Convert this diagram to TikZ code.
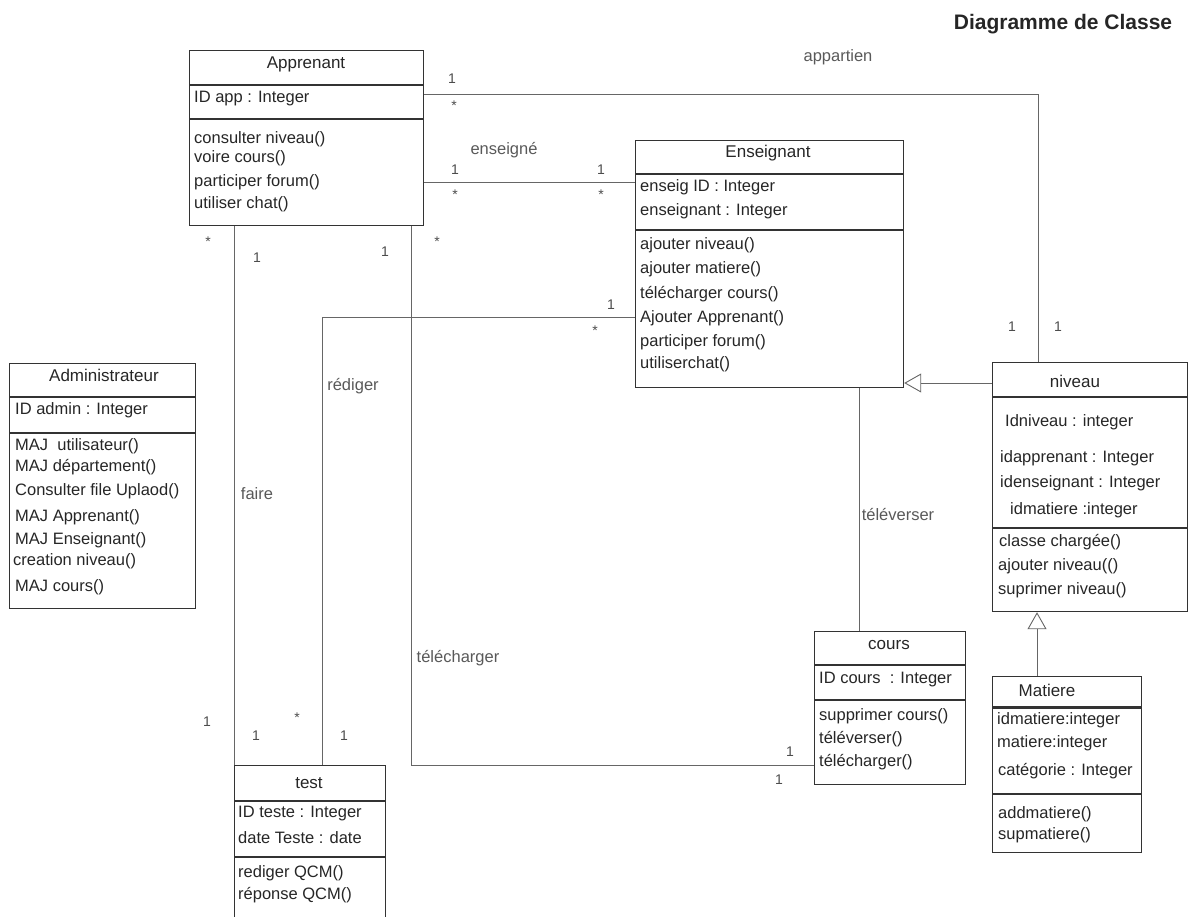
\documentclass[tikz,border=0pt]{standalone}
\usepackage{fontspec}
\setmainfont{Liberation Sans}
\usetikzlibrary{arrows.meta}

\tikzset{
    classe/.style = {draw=black!80, line width=1.2pt, anchor=north west, inner sep=0pt},
    trait/.style = {draw=black!80, line width=1.2pt},
    ligne/.style = {anchor=west, inner sep=0pt, text=black!85},
    nom/.style = {inner sep=0pt, text=black!85, font=\fontsize{17}{19}\selectfont},
    lien/.style = {draw=black!60, line width=0.9pt},
    herite/.style = {lien, -{Triangle[open, length=17pt, width=19pt]}},
    mult/.style = {inner sep=0pt, text=black!70, font=\fontsize{14}{16}\selectfont},
    role/.style = {inner sep=0pt, text=black!65}
}

\begin{document}
\begin{tikzpicture}[x=1pt, y=-1pt, font=\fontsize{16.5}{19}\selectfont]
    \useasboundingbox (0,0) rectangle (1190,916);
    \node[inner sep=0pt, font=\bfseries\fontsize{21}{24}\selectfont, text=black!85] (titre) at (1063,24) {Diagramme de Classe};

    \node[classe, minimum width=234pt, minimum height=175pt] (apprenant) at (189,50) {};
    \draw[trait] (189,85) -- (423,85);
    \draw[trait] (189,119) -- (423,119);
    \node[nom] (apprenantT) at (306,64) {Apprenant};
    \node[ligne] (apprenantA1) at (194,99) {ID app : Integer};
    \node[ligne] (apprenantM1) at (194,139) {consulter niveau()};
    \node[ligne] (apprenantM2) at (194,158) {voire cours()};
    \node[ligne] (apprenantM3) at (194,182) {participer forum()};
    \node[ligne] (apprenantM4) at (194,204) {utiliser chat()};

    \node[classe, minimum width=268pt, minimum height=247pt] (enseignant) at (635,140) {};
    \draw[trait, line width=2pt] (635,174) -- (903,174);
    \draw[trait] (635,230) -- (903,230);
    \node[nom] (enseignantT) at (768,153) {Enseignant};
    \node[ligne] (enseignantA1) at (640,187) {enseig ID : Integer};
    \node[ligne] (enseignantA2) at (640,211) {enseignant : Integer};
    \node[ligne] (enseignantM1) at (640,245) {ajouter niveau()};
    \node[ligne] (enseignantM2) at (640,269) {ajouter matiere()};
    \node[ligne] (enseignantM3) at (640,294) {télécharger cours()};
    \node[ligne] (enseignantM4) at (640,318) {Ajouter Apprenant()};
    \node[ligne] (enseignantM5) at (640,342) {participer forum()};
    \node[ligne] (enseignantM6) at (640,364) {utiliserchat()};

    \node[classe, minimum width=186pt, minimum height=245pt] (admin) at (9,363) {};
    \draw[trait] (9,397) -- (195,397);
    \draw[trait] (9,433) -- (195,433);
    \node[nom] (adminT) at (104,375) {Administrateur};
    \node[ligne] (adminA1) at (15,410) {ID admin : Integer};
    \node[ligne] (adminM1) at (15,446) {MAJ\ \ utilisateur()};
    \node[ligne] (adminM2) at (15,467) {MAJ département()};
    \node[ligne] (adminM3) at (15,491) {Consulter file Uplaod()};
    \node[ligne] (adminM4) at (15,517) {MAJ Apprenant()};
    \node[ligne] (adminM5) at (15,540) {MAJ Enseignant()};
    \node[ligne] (adminM6) at (13,561) {creation niveau()};
    \node[ligne] (adminM7) at (15,587) {MAJ cours()};

    \node[classe, minimum width=195pt, minimum height=249pt] (niveau) at (992,362) {};
    \draw[trait] (992,397) -- (1187,397);
    \draw[trait] (992,528) -- (1187,528);
    \node[nom] (niveauT) at (1075,381) {niveau};
    \node[ligne] (niveauA1) at (1005,422) {Idniveau : integer};
    \node[ligne] (niveauA2) at (1000,458) {idapprenant : Integer};
    \node[ligne] (niveauA3) at (1000,483) {idenseignant : Integer};
    \node[ligne] (niveauA4) at (1010,510) {idmatiere :integer};
    \node[ligne] (niveauM1) at (999,542) {classe chargée()};
    \node[ligne] (niveauM2) at (998,566) {ajouter niveau(()};
    \node[ligne] (niveauM3) at (998,590) {suprimer niveau()};

    \node[classe, minimum width=149pt, minimum height=176pt] (matiere) at (992,676) {};
    \draw[trait, line width=3pt] (992,707) -- (1141,707);
    \draw[trait, line width=2pt] (992,794) -- (1141,794);
    \node[nom] (matiereT) at (1047,690) {Matiere};
    \node[ligne] (matiereA1) at (997,720) {idmatiere:integer};
    \node[ligne] (matiereA2) at (997,743) {matiere:integer};
    \node[ligne] (matiereA3) at (998,771) {catégorie : Integer};
    \node[ligne] (matiereM1) at (998,814) {addmatiere()};
    \node[ligne] (matiereM2) at (998,835) {supmatiere()};

    \node[classe, minimum width=151pt, minimum height=153pt] (cours) at (814,631) {};
    \draw[trait] (814,665) -- (965,665);
    \draw[trait] (814,700) -- (965,700);
    \node[nom] (coursT) at (889,645) {cours};
    \node[ligne] (coursA1) at (819,680) {ID cours\ \ : Integer};
    \node[ligne] (coursM1) at (819,716) {supprimer cours()};
    \node[ligne] (coursM2) at (819,739) {téléverser()};
    \node[ligne] (coursM3) at (819,762) {télécharger()};

    \node[classe, minimum width=151pt, minimum height=165pt] (test) at (234,765) {};
    \draw[trait] (234,801) -- (385,801);
    \draw[trait] (234,857) -- (385,857);
    \node[nom] (testT) at (309,783) {test};
    \node[ligne] (testA1) at (238,814) {ID teste : Integer};
    \node[ligne] (testA2) at (238,838) {date Teste : date};
    \node[ligne] (testM1) at (238,873) {rediger QCM()};
    \node[ligne] (testM2) at (238,895) {réponse QCM()};

    \draw[lien] ([yshift=-44pt]apprenant.north east) -| ([xshift=46pt]niveau.north west);
    \node[role] (appartien) at (838,57) {appartien};
    \node[mult] (appartien1) at (452,79) {1};
    \node[mult] (appartien2) at (454,106) {*};
    \node[mult] (appartien3) at (1012,327) {1};
    \node[mult] (appartien4) at (1058,327) {1};

    \draw[lien] ([yshift=-132pt]apprenant.north east) -- ([yshift=-42pt]enseignant.north west);
    \node[role] (enseigne) at (504,150) {enseigné};
    \node[mult] (enseigne1) at (455,170) {1};
    \node[mult] (enseigne2) at (455,195) {*};
    \node[mult] (enseigne3) at (601,170) {1};
    \node[mult] (enseigne4) at (601,195) {*};

    \draw[lien] ([xshift=45pt]apprenant.south west) -- (test.north west);
    \node[role] (faire) at (257,494) {faire};
    \node[mult] (faire1) at (208,242) {*};
    \node[mult] (faire2) at (257,258) {1};
    \node[mult] (faire3) at (207,722) {1};
    \node[mult] (faire4) at (256,736) {1};

    \draw[lien] ([xshift=222pt]apprenant.south west) |- ([yshift=-134pt]cours.north west);
    \node[role] (telecharger) at (458,658) {télécharger};
    \node[mult] (telecharger1) at (385,252) {1};
    \node[mult] (telecharger2) at (437,242) {*};
    \node[mult] (telecharger3) at (790,752) {1};
    \node[mult] (telecharger4) at (779,780) {1};

    \draw[lien] ([yshift=-177pt]enseignant.north west) -| ([xshift=88pt]test.north west);
    \node[role] (rediger) at (353,386) {rédiger};
    \node[mult] (rediger1) at (611,305) {1};
    \node[mult] (rediger2) at (595,331) {*};
    \node[mult] (rediger3) at (297,718) {*};
    \node[mult] (rediger4) at (344,736) {1};

    \draw[lien] ([xshift=224pt]enseignant.south west) -- ([xshift=45pt]cours.north west);
    \node[role] (televerser) at (898,514) {téléverser};

    \draw[herite] ([yshift=-21pt]niveau.north west) -- ([yshift=-243pt]enseignant.north east);
    \draw[herite] ([xshift=45pt]matiere.north west) -- ([xshift=45pt]niveau.south west);
\end{tikzpicture}
\end{document}
